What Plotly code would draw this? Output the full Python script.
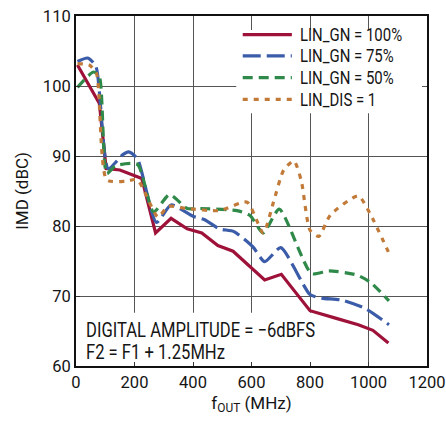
import plotly.graph_objects as go

# ---- data ----
red_x = [5, 80, 103, 150, 225, 272, 325, 380, 430, 485, 537, 645, 702, 800, 890, 965, 1015, 1068]
red_y = [103.0, 97.5, 88.2, 88.0, 86.8, 79.0, 81.1, 79.6, 79.0, 77.2, 76.4, 72.3, 73.1, 67.9, 66.8, 65.9, 65.1, 63.3]

blue_x = [5, 40, 68, 110, 160, 180, 210, 275, 325, 400, 440, 490, 540, 605, 645, 700, 800, 840, 910, 990, 1070]
blue_y = [103.5, 104.0, 102.8, 88.2, 90.2, 90.6, 89.6, 80.5, 83.0, 81.4, 80.9, 79.6, 79.2, 77.0, 74.9, 76.9, 70.2, 69.7, 69.4, 68.2, 65.9]

green_x = [5, 60, 80, 105, 135, 210, 265, 320, 380, 425, 550, 595, 640, 695, 805, 865, 960, 1005, 1070]
green_y = [99.8, 102.0, 101.3, 87.5, 88.6, 88.8, 82.0, 84.5, 82.5, 82.5, 82.2, 81.5, 79.0, 82.4, 73.2, 73.6, 73.0, 72.0, 69.3]

orange_x = [5, 45, 70, 105, 170, 210, 280, 315, 380, 490, 585, 640, 675, 710, 745, 770, 800, 830, 870, 965, 1005, 1068]
orange_y = [103.2, 103.0, 101.8, 86.6, 86.4, 86.6, 81.3, 82.8, 82.5, 82.2, 83.4, 79.0, 83.4, 88.0, 89.3, 86.5, 79.4, 78.5, 81.6, 84.3, 81.8, 76.3]

series_names = ["LIN_GN = 100%", "LIN_GN = 75%", "LIN_GN = 50%", "LIN_DIS = 1"]
note_lines = ["DIGITAL AMPLITUDE = \u22126dBFS", "F2 = F1 + 1.25MHz"]
x_ticks = [0, 200, 400, 600, 800, 1000, 1200]
y_ticks = [60, 70, 80, 90, 100, 110]

series_x = [red_x, blue_x, green_x, orange_x]
series_y = [red_y, blue_y, green_y, orange_y]
colors = ["#9E1239", "#3B5CA8", "#2F8A4A", "#C27A38"]
dashes = ["solid", "18px,6px", "10px,6px", "5px,6px"]
shapes_ = ["linear", "spline", "spline", "spline"]

FONT = "Roboto, Liberation Sans, sans-serif"
TXT = "#151515"

fig = go.Figure()
for name, xs, ys, c, d, s in zip(series_names, series_x, series_y, colors, dashes, shapes_):
    fig.add_trace(go.Scatter(x=xs, y=ys, mode="lines", name=name, showlegend=False,
                             line=dict(color=c, width=3.2, dash=d, shape=s, smoothing=0.6)))

# white boxes (above the grid, below the traces): note box and legend box
fig.add_shape(type="rect", xref="x", yref="y", x0=3, x1=840, y0=60.1, y1=67.6,
              fillcolor="white", line=dict(width=0), layer="between")
fig.add_shape(type="rect", xref="x", yref="y", x0=548, x1=1183, y0=96.1, y1=108.0,
              fillcolor="white", line=dict(width=0), layer="between")

# custom legend
leg_y = [0.947, 0.886, 0.824, 0.762]
for name, c, d, ly in zip(series_names, colors, dashes, leg_y):
    fig.add_shape(type="line", xref="paper", yref="paper", x0=0.475, x1=0.615, y0=ly, y1=ly,
                  line=dict(color=c, width=3.2, dash=d), layer="above")
    fig.add_annotation(xref="paper", yref="paper", x=0.633, y=ly, xanchor="left", yanchor="middle",
                       align="left", showarrow=False, text=name,
                       font=dict(family=FONT, size=18, color=TXT))

for txt, ny in zip(note_lines, [0.103, 0.041]):
    fig.add_annotation(xref="paper", yref="paper", x=0.022, y=ny, xanchor="left", yanchor="middle",
                       align="left", showarrow=False, text=txt,
                       font=dict(family=FONT, size=20, color=TXT))

axis_common = dict(showline=True, mirror=True, linecolor="#111", linewidth=2,
                   showgrid=True, gridcolor="#555", gridwidth=1.2,
                   ticks="inside", ticklen=4, tickcolor="#333", zeroline=False, automargin=False,
                   tickfont=dict(family=FONT, size=16.5, color=TXT))

fig.update_xaxes(range=[0, 1200], tickvals=x_ticks,
                 title=dict(text="f<sub>OUT</sub> (MHz)", font=dict(family=FONT, size=17, color=TXT), standoff=6),
                 **axis_common)
fig.update_yaxes(range=[60, 110], tickvals=y_ticks,
                 title=dict(text="IMD (dBC)", font=dict(family=FONT, size=17, color=TXT), standoff=10),
                 **axis_common)

fig.update_layout(
    width=446, height=423,
    margin=dict(l=76, r=19, t=16, b=57),
    paper_bgcolor="white", plot_bgcolor="white",
    showlegend=False,
)

# remove the default page margin; condense the annotation texts (the original uses a condensed face)
post = """
document.body.style.margin='0';document.body.style.padding='0';
(function(){
  var gd=document.getElementById('{plot_id}');
  var S=0.83;
  function squeeze(){
    var nodes=gd.querySelectorAll('g.annotation text.annotation-text');
    nodes.forEach(function(t){
      var lines=t.querySelectorAll('tspan.line');
      var targets=lines.length?Array.prototype.slice.call(lines):[t];
      targets.forEach(function(el){
        if(!el.dataset.w0){el.dataset.w0=el.getComputedTextLength();}
        el.setAttribute('textLength',(parseFloat(el.dataset.w0)*S).toFixed(2));
        el.setAttribute('lengthAdjust','spacingAndGlyphs');
      });
    });
  }
  squeeze();
  if(gd.on){gd.on('plotly_afterplot',squeeze);}
  setTimeout(squeeze,50);
})();
"""
fig.write_html("out.html", post_script=post, config={"displayModeBar": False})
